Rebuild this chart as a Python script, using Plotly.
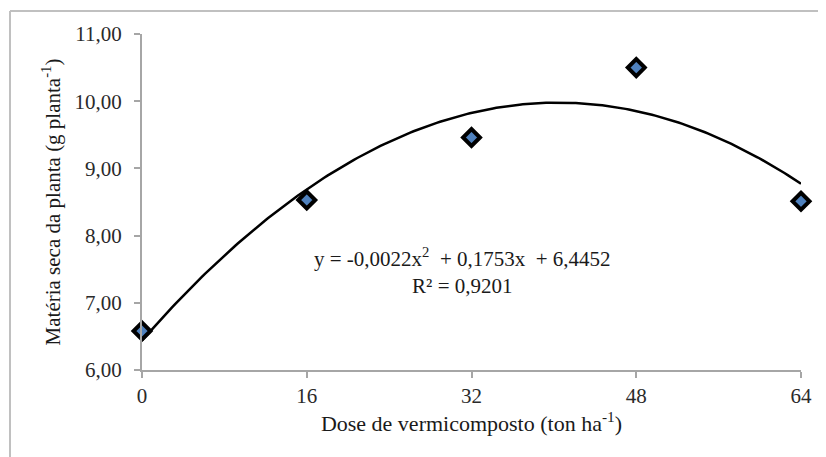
import numpy as np
import plotly.graph_objects as go

dose = [0, 16, 32, 48, 64]
materia_seca = [6.58, 8.53, 9.46, 10.50, 8.51]
x_ticks = [0, 16, 32, 48, 64]
y_ticks = [6, 7, 8, 9, 10, 11]
equation_text = "y = -0,0022x<sup>2</sup>  + 0,1753x  + 6,4452<br>R² = 0,9201"

coef = np.polyfit(dose, materia_seca, 2)
xs = np.linspace(min(dose), max(dose), 200)
ys = np.polyval(coef, xs)

FONT = "Liberation Serif, Times New Roman, serif"
AX = "#a6a6a6"
TXT = "#2a2a2a"

W, H = 826, 457
L, R, T, B = 134, 33, 26, 95
pw, ph = W - L - R, H - T - B

fig = go.Figure()
fig.add_trace(go.Scatter(x=xs, y=ys, mode="lines",
                         line=dict(color="black", width=2.5), hoverinfo="skip",
                         cliponaxis=False, showlegend=False))
fig.add_trace(go.Scatter(x=dose, y=materia_seca, mode="markers",
                         marker=dict(symbol="diamond", size=13, color="#4f81bd",
                                     line=dict(color="black", width=4)),
                         cliponaxis=False, showlegend=False))

fig.add_annotation(x=0.487, y=0.294, xref="paper", yref="paper", text=equation_text,
                   xanchor="center", yanchor="middle",
                   showarrow=False, font=dict(family=FONT, size=21, color="#1a1a1a"),
                   align="center")

fig.update_layout(
    width=W, height=H,
    margin=dict(l=L, r=R, t=T, b=B),
    paper_bgcolor="white", plot_bgcolor="white",
    separators=",.",
    font=dict(family=FONT, size=21, color=TXT),
    xaxis=dict(range=[0, 64], tickvals=x_ticks, showgrid=False, zeroline=False,
               showline=True, linecolor=AX, linewidth=2, ticks="outside",
               ticklen=6, tickcolor=AX, tickwidth=2,
               tickfont=dict(family=FONT, size=21, color=TXT),
               title=dict(text="Dose de vermicomposto (ton ha<sup>-1</sup>)",
                          font=dict(family=FONT, size=22, color="#1a1a1a"), standoff=6)),
    yaxis=dict(range=[6, 11], tickvals=y_ticks, tickformat=".2f", showgrid=False,
               zeroline=False, showline=True, linecolor=AX, linewidth=2,
               ticks="outside", ticklen=6, tickcolor=AX, tickwidth=2,
               ticklabelstandoff=8,
               tickfont=dict(family=FONT, size=21, color=TXT),
               title=dict(text="Matéria seca da planta (g planta<sup>-1</sup>)",
                          font=dict(family=FONT, size=21, color="#1a1a1a"), standoff=8)),
    shapes=[
        dict(type="line", xref="paper", yref="paper", x0=(2 - L) / pw, x1=(W - L) / pw,
             y0=(H - B - 3) / ph, y1=(H - B - 3) / ph, line=dict(color="#c0c0c0", width=2)),
        dict(type="line", xref="paper", yref="paper", x0=(2 - L) / pw, x1=(2 - L) / pw,
             y0=(H - B - 3) / ph, y1=-B / ph, line=dict(color="#c0c0c0", width=2)),
    ],
)

fig.write_html("out.html")
